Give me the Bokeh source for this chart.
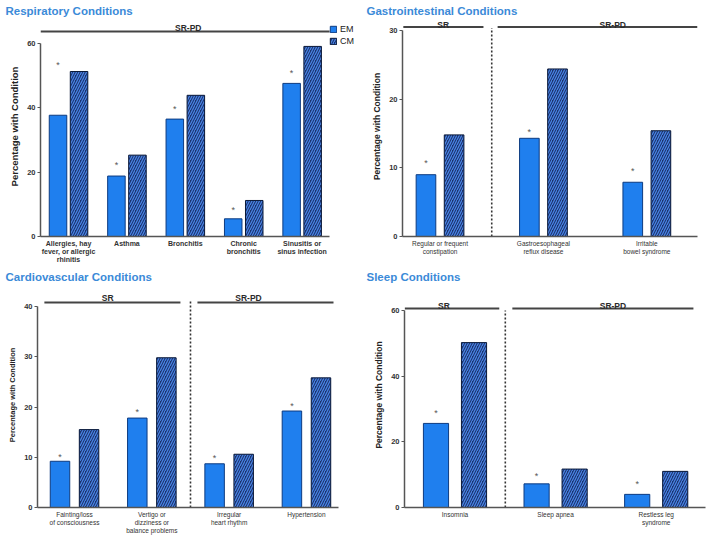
from bokeh.plotting import figure
from bokeh.models import Range1d, FixedTicker, Legend, LegendItem
from bokeh.layouts import column, row
from bokeh.embed import file_html
from bokeh.resources import INLINE
from bokeh.core.properties import value

# ---------------- data ----------------
resp_cats = ["Allergies, hay\nfever, or allergic\nrhinitis", "Asthma", "Bronchitis",
             "Chronic\nbronchitis", "Sinusitis or\nsinus infection"]
resp_em = [37.7, 18.8, 36.5, 5.5, 47.6]
resp_cm = [51.3, 25.3, 43.9, 11.2, 59.1]
resp_star = [53.3, 22.3, 39.5, 8.1, 50.7]

gi_cats = ["Regular or frequent\nconstipation", "Gastroesophageal\nreflux disease",
           "Irritable\nbowel syndrome"]
gi_em = [9.0, 14.3, 7.9]
gi_cm = [14.8, 24.4, 15.4]
gi_star = [10.7, 15.2, 9.5]

cv_cats = ["Fainting/loss\nof consciousness", "Vertigo or\ndizziness or\nbalance problems",
           "Irregular\nheart rhythm", "Hypertension"]
cv_em = [9.2, 17.8, 8.7, 19.2]
cv_cm = [15.5, 29.8, 10.6, 25.8]
cv_star = [10.1, 19.0, 9.9, 20.3]

sl_cats = ["Insomnia", "Sleep apnea", "Restless leg\nsyndrome"]
sl_em = [25.6, 7.2, 4.0]
sl_cm = [50.2, 11.7, 11.0]
sl_star = [28.8, 9.7, 7.2]

series_names = ["EM", "CM"]

# ---------------- styles ----------------
TITLE_COLOR = "#3b8ad8"
EM_COLOR = "#1f7fee"
CM_COLOR = "#1b3470"
HATCH_COLOR = "#4a86e8"
DARK = "#2b2b2b"
FONT = "Liberation Sans"
FONT_V = value(FONT)


def panel(title, cats, em, cm, star, ymax_axis, yticks, ylabel_size,
          width, height, borders, xr, yr, xbounds, bar_w, off,
          headers, divider, title_off, xlab_size, xlab_style):
    bl, br, bt, bb = borders
    p = figure(width=width, height=height, output_backend="svg",
               toolbar_location=None, x_range=Range1d(*xr), y_range=Range1d(*yr),
               min_border_left=bl, min_border_right=br, min_border_top=bt,
               min_border_bottom=bb)
    p.outline_line_color = None
    p.xgrid.visible = False
    p.ygrid.visible = False
    p.title.text = title
    p.title.align = "left"
    p.title.offset = title_off
    p.title.standoff = 0
    p.title.text_font_size = "11.5px"
    p.title.text_font_style = "bold"
    p.title.text_font = FONT
    p.title.text_color = TITLE_COLOR

    n = len(cats)
    idx = list(range(n))
    em_r = p.vbar(x=[i - off for i in idx], top=em, width=bar_w, bottom=0,
                  fill_color=EM_COLOR, line_color="#0d3b80", line_width=1)
    cm_r = p.vbar(x=[i + off for i in idx], top=cm, width=bar_w, bottom=0,
                  fill_color=CM_COLOR, line_color="#0b1a3a", line_width=1,
                  hatch_pattern="/", hatch_color=HATCH_COLOR, hatch_scale=5,
                  hatch_weight=1.2)
    p.text(x=[i - off for i in idx], y=star, text=["*"] * n, text_align="center",
           text_baseline="middle", text_font_size="9px", text_color="#555555",
           text_font=FONT_V)
    # group headers
    for (x0, x1, xt, ly, txt, yoff) in headers:
        p.segment(x0=[x0], x1=[x1], y0=[ly], y1=[ly], line_color="#444444", line_width=2)
        p.text(x=[xt], y=[ly], text=[txt], text_align="center", text_baseline="alphabetic",
               y_offset=yoff, text_font_size="8.5px", text_font_style="bold",
               text_color=DARK, text_font=FONT_V)
    if divider is not None:
        dx, dy = divider
        p.segment(x0=[dx], x1=[dx], y0=[0], y1=[dy], line_color="#333333",
                  line_width=1.6, line_dash="2 2")
    # axes
    xa = p.xaxis[0]
    xa.ticker = FixedTicker(ticks=idx)
    xa.major_label_overrides = {i: c for i, c in zip(idx, cats)}
    xa.major_label_text_font_size = xlab_size
    xa.major_label_text_font_style = xlab_style
    xa.major_label_text_font = FONT
    xa.major_label_text_color = "#333333"
    xa.major_tick_line_color = None
    xa.minor_tick_line_color = None
    xa.major_tick_out = 0
    xa.major_tick_in = 0
    xa.major_label_standoff = 3
    xa.axis_line_color = "#555555"
    xa.axis_line_width = 1.5
    xa.bounds = xbounds

    ya = p.yaxis[0]
    ya.ticker = FixedTicker(ticks=yticks)
    ya.bounds = (0, ymax_axis)
    ya.axis_label = "Percentage with Condition"
    ya.axis_label_text_font_size = ylabel_size
    ya.axis_label_text_font_style = "bold"
    ya.axis_label_text_font = FONT
    ya.axis_label_text_color = "#222222"
    ya.axis_label_standoff = 4
    ya.major_label_text_font_size = "7.5px"
    ya.major_label_text_font_style = "bold"
    ya.major_label_text_font = FONT
    ya.major_label_text_color = "#333333"
    ya.major_label_standoff = 2
    ya.major_tick_out = 3
    ya.major_tick_in = 0
    ya.minor_tick_line_color = None
    ya.axis_line_color = "#555555"
    ya.axis_line_width = 1.5
    ya.major_tick_line_color = "#555555"
    return p, em_r, cm_r


# Respiratory (top-left)
p1, em1, cm1 = panel("Respiratory Conditions", resp_cats, resp_em, resp_cm, resp_star,
                     60, [0, 20, 40, 60], "9.5px", 357, 266, (40, 0, 16, 30),
                     (-0.48, 4.948), (0, 68.4), (-0.48, 4.47), 0.30, 0.18,
                     [(-0.48, 4.47, 2.05, 63.7, "SR-PD", -4)], None, -35, "7px", "bold")
legend = Legend(items=[LegendItem(label=series_names[0], renderers=[em1]),
                       LegendItem(label=series_names[1], renderers=[cm1])],
                location=(289, 190), glyph_width=8, glyph_height=8, label_height=9,
                label_text_font_size="9px", label_text_font=FONT, label_standoff=3,
                spacing=2, padding=0, margin=0, border_line_color=None,
                background_fill_alpha=0, label_text_color="#222222")
p1.add_layout(legend, "center")

# Gastrointestinal (top-right)
p2, _, _ = panel("Gastrointestinal Conditions", gi_cats, gi_em, gi_cm, gi_star,
                 30, [0, 10, 20, 30], "8.5px", 356, 266, (45, 16, 16, 30),
                 (-0.363, 2.49), (0, 32.04), (-0.363, 2.49), 0.19, 0.136,
                 [(-0.355, 0.42, 0.03, 30.5, "SR", -2), (0.557, 2.49, 1.67, 30.5, "SR-PD", -2)],
                 (0.5, 30.35), -36, "6.5px", "normal")

# Cardiovascular (bottom-left)
p3, _, _ = panel("Cardiovascular Conditions", cv_cats, cv_em, cv_cm, cv_star,
                 40, [0, 10, 20, 30, 40], "7.5px", 357, 271, (37, 10, 16, 30),
                 (-0.479, 3.531), (0, 44.78), (-0.479, 3.415), 0.252, 0.188,
                 [(-0.39, 1.37, 0.43, 40.8, "SR", -4), (1.59, 3.35, 2.25, 40.8, "SR-PD", -4)],
                 (1.5, 41.0), -32, "6.5px", "normal")

# Sleep (bottom-right)
p4, _, _ = panel("Sleep Conditions", sl_cats, sl_em, sl_cm, sl_star,
                 60, [0, 20, 40, 60], "8.5px", 356, 271, (47, 8, 16, 30),
                 (-0.502, 2.49), (0, 68.5), (-0.502, 2.49), 0.25, 0.189,
                 [(-0.5, 0.44, -0.11, 60.6, "SR", -2), (0.57, 2.37, 1.57, 60.6, "SR-PD", -2)],
                 (0.5, 60.0), -38, "6.5px", "normal")

layout = column(row(p1, p2), row(p3, p4))
open("out.html", "w").write(file_html(layout, INLINE))
